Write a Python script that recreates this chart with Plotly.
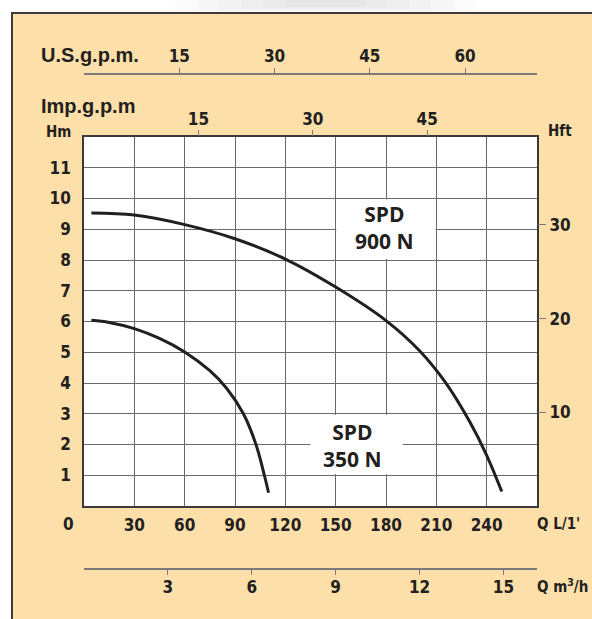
import plotly.graph_objects as go

# ---------------- data ----------------
q_900 = [4.4, 30, 60, 90, 120, 150, 180, 200, 215, 230, 240, 249]
h_900 = [9.53, 9.46, 9.15, 8.69, 8.03, 7.12, 6.03, 5.05, 4.05, 2.73, 1.65, 0.47]

q_350 = [4.4, 15, 30, 45, 60, 75, 85, 95, 102.5, 107.5, 110]
h_350 = [6.04, 5.97, 5.77, 5.45, 5.01, 4.40, 3.83, 3.0, 2.0, 1.0, 0.43]

q_lmin_ticks = [30, 60, 90, 120, 150, 180, 210, 240]
h_m_ticks = [1, 2, 3, 4, 5, 6, 7, 8, 9, 10, 11]
h_ft_ticks = [10, 20, 30]
usgpm_ticks = [15, 30, 45, 60]
impgpm_ticks = [15, 30, 45]
m3h_ticks = [3, 6, 9, 12, 15]

label_900 = "SPD<br>900 N"
label_350 = "SPD<br>350 N"

# ---------------- unit conversions ----------------
Q_MAX = 270.0            # L/min
H_MAX = 12.0             # m
L_PER_USGAL = 3.785411784
L_PER_IMPGAL = 4.54609
M_PER_FT = 0.3048

# ---------------- layout geometry ----------------
W, HT = 592, 619
ML, MR, MT, MB = 84, 55, 40, 20
PW = W - ML - MR
PH = HT - MT - MB


def fx(px):
    return (px - ML) / PW


def fy(py):
    return (HT - MB - py) / PH


INK = "#231F20"
GRID = "#6a6a6a"
TICKFAM = "Liberation Sans Narrow, Noto Sans Condensed, DejaVu Sans Condensed, Arial Narrow, sans-serif"
TICKFONT = dict(family=TICKFAM, size=17, color=INK, weight=700)
BEIGE = "#FDDFA9"

fig = go.Figure()

fig.add_trace(go.Scatter(x=q_900, y=h_900, mode="lines",
                         line=dict(color=INK, width=3, shape="spline", smoothing=1.0),
                         showlegend=False, hoverinfo="skip"))
fig.add_trace(go.Scatter(x=q_350, y=h_350, mode="lines",
                         line=dict(color=INK, width=3, shape="spline", smoothing=1.0),
                         showlegend=False, hoverinfo="skip"))

# invisible helper traces so that the secondary axes are drawn
for xa, ya in [("x2", "y"), ("x3", "y"), ("x4", "y"), ("x", "y2")]:
    fig.add_trace(go.Scatter(x=[None], y=[None], xaxis=xa, yaxis=ya, mode="markers",
                             showlegend=False, hoverinfo="skip"))

ydom = [fy(506), fy(137)]

fig.update_layout(
    width=W, height=HT, autosize=False,
    margin=dict(l=ML, r=MR, t=MT, b=MB, pad=0),
    paper_bgcolor="white", plot_bgcolor="white",
    xaxis=dict(domain=[0, 1], range=[0, Q_MAX], anchor="y", tickvals=q_lmin_ticks,
               showgrid=True, gridcolor=GRID, gridwidth=1, zeroline=False,
               showline=True, mirror=True, linecolor="#3a3a3a", linewidth=1.5,
               ticks="", tickfont=TICKFONT, ticklabelstandoff=3),
    yaxis=dict(domain=ydom, range=[0, H_MAX], anchor="x", tickvals=h_m_ticks,
               showgrid=True, gridcolor=GRID, gridwidth=1, zeroline=False,
               showline=True, mirror=True, linecolor="#3a3a3a", linewidth=1.5,
               ticks="", tickfont=TICKFONT, ticklabelstandoff=8),
    xaxis2=dict(overlaying="x", anchor="free", position=fy(74), side="top",
                range=[0, Q_MAX / L_PER_USGAL], tickvals=usgpm_ticks,
                showgrid=False, zeroline=False, showline=True, linecolor="#7a7a7a", linewidth=1.5,
                ticks="outside", ticklen=5, tickcolor="#7a7a7a", tickwidth=1.2,
                tickfont=TICKFONT, ticklabelstandoff=-1),
    xaxis3=dict(overlaying="x", anchor="y", side="top",
                range=[0, Q_MAX / L_PER_IMPGAL], tickvals=impgpm_ticks,
                showgrid=False, zeroline=False, showline=False,
                ticks="outside", ticklen=6, tickcolor="#7a7a7a", tickwidth=1.2,
                tickfont=TICKFONT, ticklabelstandoff=-2),
    xaxis4=dict(overlaying="x", anchor="free", position=fy(569), side="bottom",
                range=[0, Q_MAX * 60 / 1000], tickvals=m3h_ticks,
                showgrid=False, zeroline=False, showline=True, linecolor="#7a7a7a", linewidth=1.5,
                ticks="outside", ticklen=5, tickcolor="#7a7a7a", tickwidth=1.2,
                tickfont=TICKFONT, ticklabelstandoff=-2),
    yaxis2=dict(overlaying="y", anchor="x", side="right",
                range=[0, H_MAX / M_PER_FT], tickvals=h_ft_ticks,
                showgrid=False, zeroline=False, showline=False,
                ticks="outside", ticklen=8, tickcolor="#7a7a7a", tickwidth=1.2,
                tickfont=TICKFONT, ticklabelstandoff=0),
)

shapes = []
# faint shadow above the panel
for k in range(6):
    shapes.append(dict(type="rect", xref="paper", yref="paper", layer="below",
                       x0=fx(175 + 22 * k), x1=fx(475 - 22 * k), y0=fy(12 - k), y1=fy(0),
                       fillcolor="#a0a0a0", opacity=0.045, line=dict(width=0)))
# beige panel with dark border
shapes.append(dict(type="rect", xref="paper", yref="paper", layer="below",
                   x0=fx(12), x1=fx(640), y0=fy(660), y1=fy(13),
                   fillcolor=BEIGE, line=dict(color="#3c3c3c", width=2)))
# white plotting area
shapes.append(dict(type="rect", xref="x", yref="y", layer="below",
                   x0=0, x1=Q_MAX, y0=0, y1=H_MAX, fillcolor="white", line=dict(width=0)))
# white label boxes hiding the grid
shapes.append(dict(type="rect", xref="x", yref="y", layer="between",
                   x0=150.4, x1=209.6, y0=8.03, y1=9.97, fillcolor="white", line=dict(width=0)))
shapes.append(dict(type="rect", xref="x", yref="y", layer="between",
                   x0=135, x1=190, y0=1.03, y1=2.97, fillcolor="white", line=dict(width=0)))
fig.update_layout(shapes=shapes)

LABFONT = dict(family="Open Sans, Noto Sans, sans-serif", size=21, color=INK, weight=700)
TITLEFONT = dict(family="Liberation Sans, Arial, sans-serif", size=20, color=INK, weight=700)
SMALLFONT = dict(family=TICKFAM, size=15, color=INK, weight=700)
QFONT = dict(family=TICKFAM, size=15, color=INK, weight=700)

ann = [
    dict(text=label_900, x=179, y=9.07, xref="x", yref="y", showarrow=False, font=LABFONT,
         xanchor="center", yanchor="middle", align="center"),
    dict(text=label_350, x=160, y=1.97, xref="x", yref="y", showarrow=False, font=LABFONT,
         xanchor="center", yanchor="middle", align="center"),
    dict(text="U.S.g.p.m.", x=fx(39), y=fy(55), xref="paper", yref="paper", showarrow=False,
         font=TITLEFONT, xanchor="left", yanchor="middle"),
    dict(text="Imp.g.p.m", x=fx(39), y=fy(106), xref="paper", yref="paper", showarrow=False,
         font=TITLEFONT, xanchor="left", yanchor="middle"),
    dict(text="Hm", x=fx(58), y=fy(132), xref="paper", yref="paper", showarrow=False,
         font=SMALLFONT, xanchor="center", yanchor="middle"),
    dict(text="Hft", x=fx(560), y=fy(131), xref="paper", yref="paper", showarrow=False,
         font=SMALLFONT, xanchor="center", yanchor="middle"),
    dict(text="0", x=fx(68), y=fy(524), xref="paper", yref="paper", showarrow=False,
         font=TICKFONT, xanchor="center", yanchor="middle"),
    dict(text="Q L/1'", x=fx(535), y=fy(524), xref="paper", yref="paper", showarrow=False,
         font=QFONT, xanchor="left", yanchor="middle"),
    dict(text="Q m<sup>3</sup>/h", x=fx(535), y=fy(586), xref="paper", yref="paper", showarrow=False,
         font=QFONT, xanchor="left", yanchor="middle"),
]
fig.update_layout(annotations=ann)

fig.write_html("out.html", config={"displayModeBar": False},
               post_script="document.body.style.margin='0px';")
